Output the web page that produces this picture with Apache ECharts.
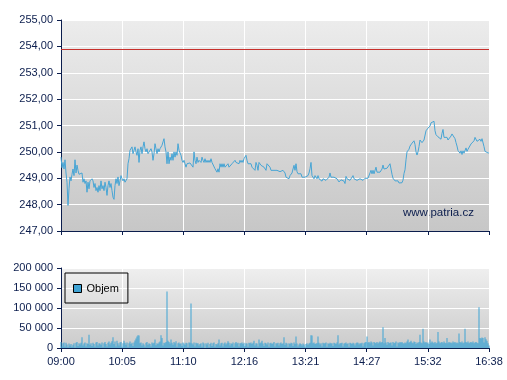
<!DOCTYPE html>
<html><head><meta charset="utf-8">
<script src="https://cdn.jsdelivr.net/npm/echarts@6/dist/echarts.min.js"></script>
<style>html,body{margin:0;padding:0;background:#fff}#c{width:507px;height:380px}</style>
</head><body><div id="c"></div>
<script>
const xTickLabels = ['09:00','10:05','11:10','12:16','13:21','14:27','15:32','16:38'];
const sessionMinutes = 458;
const refLevel = 253.9;
const seriesName = 'Objem';
const watermark = 'www.patria.cz';

const priceOpen = [
249.8,249.4,249.6,249.35,249.7,249.2,248.85,247.97,248.6,249.05,
248.9,249.15,249.35,249.1,249.7,249.2,249.5,249.3,249.15,249.2,
249.1,249.2,248.85,248.98,248.8,248.9,248.47,248.85,248.6,248.9,
248.85,248.98,248.9,248.65,248.8,248.53,248.65,248.47,248.72,248.53,
248.9,248.6,248.72,248.53,248.85,248.65,248.35,248.72,248.9,248.65,
248.8,248.53,248.28,248.2,248.72,248.98,248.8,249.05,248.72,248.9,
249.1,248.98,248.9,248.98,248.85,248.8,248.98,249.55,249.74,250.06,
250.0,250.19,249.93,250.06,250.19,250.0,249.87,250.12,249.6,250.06,
250.19,249.93,250.19,250.38,250.12,250.0,250.12,249.93,250.0,249.93,
250.12,250.0,249.68,249.93,250.31,250.12,249.93,250.12,250.0,250.12,
250.06,250.25,250.38,250.5,250.19,250.0,249.55,250.0];
const priceMidday = [
249.55,249.8,249.68,249.93,249.68,250.0,249.8,250.0,249.87,250.31,
250.06,250.0,249.87,249.68,249.6,249.68,249.55,249.42,249.55,249.58,
249.55,249.58,249.55,249.55,249.42,250.0,249.68,249.55,249.8,249.6,
249.68,249.74,249.6,249.8,249.68,249.6,249.74,249.6,249.68,249.6,
249.68,249.6,249.74,249.6,249.58,249.55,249.36,249.42,249.23,249.36,
249.23,249.55,249.42,249.55,249.42,249.55,249.42,249.49,249.42,249.55,
249.42,249.49,249.42,249.55,249.6,249.55,249.68,249.6,249.55,249.6,
249.55,249.68,249.6,249.68,249.6,249.74,249.68,249.87,249.68,249.55,
249.6,249.49,249.55,249.42,249.36,249.49,249.3,249.6,249.49,249.3,
249.6,249.55,249.49,249.42,249.55,249.42,249.36,249.3,249.55,249.6,
249.49,249.42,249.3,249.3,249.3,249.3,249.3];
const priceAfternoon = [
249.35,249.3,249.25,249.3,249.25,249.25,249.27,249.3,249.28,249.2,
249.04,248.98,249.1,248.98,249.1,249.07,249.2,249.35,249.49,249.3,
249.55,249.25,249.17,249.23,249.1,249.17,249.04,249.0,248.98,249.04,
249.04,249.04,249.1,249.2,249.36,249.6,249.1,249.17,248.98,249.1,
249.04,248.98,249.1,248.98,248.94,248.98,248.89,248.98,248.92,248.98,
248.92,248.98,248.94,249.04,249.2,249.04,249.07,249.04,249.04,249.04,
249.0,248.98,248.92,248.86,248.8,248.94,248.89,248.98,248.89,248.8,
249.07,248.98,248.92,248.98,248.92,248.98,248.92,249.1,248.98,248.92,
248.98,248.92,248.92,248.92,248.98,248.95,248.92,248.92,248.92,249.0,
249.0,248.98,249.0,248.98,249.2,249.3,249.17,249.3,249.17,249.23,
249.42,249.23,249.3,249.17,249.23,249.25];
const priceClose = [
249.35,249.5,249.35,249.38,249.33,249.38,249.33,249.45,249.55,249.35,
249.15,249.0,249.02,248.9,248.92,248.88,248.9,248.82,248.78,248.88,
248.83,248.93,249.18,249.32,249.7,250.0,249.95,250.1,250.22,250.2,
250.33,250.28,250.42,250.28,250.0,249.88,250.0,250.2,250.45,250.5,
250.35,250.28,250.45,250.46,250.8,250.8,250.9,250.85,250.98,251.1,
251.05,251.17,251.16,250.8,250.65,250.6,250.57,250.6,250.58,250.48,
250.7,250.85,250.55,250.6,250.48,250.55,250.45,250.5,250.47,250.6,
250.68,250.69,250.65,250.5,250.35,250.22,250.05,250.04,249.95,250.04,
249.9,250.04,249.95,249.98,250.15,250.02,250.1,250.08,250.17,250.3,
250.37,250.33,250.42,250.55,250.52,250.4,250.43,250.33,250.48,250.4,
250.5,250.5,250.2,250.02,250.05,249.98,249.96,249.96];

// volume in thousands of shares
const volumeOpenK = [
15,4,12,14,3,13,9,2,11,6, 10,3,8,12,1,13,15,5,12,9,
13,27,6,11,14,4,12,10,33,8, 12,5,13,10,3,14,15,6,12,11,
8,14,2,12,15,10,4,13,16,9, 13,17,27,10,16,4,18,12,6,14,
15,3,12,18,13,8,14,2,12,16, 10,13,5,14,19,24,29,32,31,12,
14,6,12,9,3,13,15,8,12,10, 4,14,11,13,21,7,12,10,14,16,
32,25,6,13,12,15,141,18,15,11];
const volumeMiddayK = [
21,13,8,15,12,17,3,12,14,10, 12,5,14,11,8,13,12,2,14,13,
111,12,9,14,4,13,11,12,6,10, 12,3,14,11,0,12,9,13,2,10,
13,5,12,14,3,10,9,12,21,6, 12,13,4,11,14,9,12,17,13,6,
12,10,14,3,12,15,11,13,4,12, 12,14,10,13,5,12,11,3,13,12,
14,10,13,18,6,12,11,4,21,12, 14,18,11,5,13,12,9,14,3,12,
13,10,12,15,4,12,11,13,6,12];
const volumeAfternoonK = [
14,10,12,27,8,13,11,3,12,10, 13,12,5,14,10,29,11,4,9,12,
10,6,11,9,3,10,12,8,11,13, 32,31,12,14,10,11,12,29,13,9,
12,4,13,11,12,14,3,12,10,13, 11,12,5,13,12,10,14,32,9,12,
12,13,4,11,12,14,10,12,3,13, 12,10,13,11,6,12,14,13,9,12,
11,13,4,12,14,15,29,13,15,12, 16,14,6,15,13,12,15,11,14,16];
const volumeCloseK = [
13,15,52,12,25,14,8,15,12,13, 14,6,15,12,13,16,4,14,12,15,
13,15,12,11,14,12,16,21,13,15, 18,14,12,16,15,10,14,12,15,33,
14,12,48,16,13,15,12,14,10,21, 13,16,14,12,15,11,13,40,16,12,
14,15,12,16,13,12,25,12,15,13, 14,12,16,13,15,12,14,12,36,15,
13,16,12,14,48,15,13,16,12,14, 15,13,16,12,14,15,13,12,102,25,
24,26,25,14,27,22,18,12,6];

const prices = [].concat(priceOpen, priceMidday, priceAfternoon, priceClose);
const volumes = [].concat(volumeOpenK, volumeMiddayK, volumeAfternoonK, volumeCloseK).map(v => v * 1000);
const step = sessionMinutes / (prices.length - 1);
const priceData = prices.map((p, i) => [i * step, p]);
const volData = volumes.map((v, i) => [i * step, v]);
const xInterval = sessionMinutes / (xTickLabels.length - 1);

const navy = '#0b1d4d';
const font = '"Liberation Sans", Arial, sans-serif';
const lineBlue = '#47a5d5';

function xLabel(v) { return xTickLabels[Math.round(v / xInterval)] || ''; }
function grad(a, b) {
  return new echarts.graphic.LinearGradient(0, 0, 0, 1, [{offset: 0, color: a}, {offset: 1, color: b}]);
}
const axisCommon = {
  axisLine: {show: true, onZero: false, lineStyle: {color: navy, width: 1}},
  axisTick: {show: true, length: 4, lineStyle: {color: navy}},
  splitLine: {show: true, lineStyle: {color: '#ffffff', width: 1}}
};

const chart = echarts.init(document.getElementById('c'), null, {renderer: 'canvas'});
chart.setOption({
  animation: false,
  backgroundColor: '#ffffff',
  grid: [
    {left: 61, right: 18, top: 20, height: 211, show: true, borderWidth: 0, backgroundColor: grad('#ececec', '#c7c7c7')},
    {left: 61, right: 18, top: 268, height: 80, show: true, borderWidth: 0, backgroundColor: grad('#efefef', '#cbcbcb')}
  ],
  xAxis: [
    Object.assign({type: 'value', gridIndex: 0, min: 0, max: sessionMinutes, interval: xInterval,
      axisLabel: {show: false}}, axisCommon),
    Object.assign({type: 'value', gridIndex: 1, min: 0, max: sessionMinutes, interval: xInterval,
      axisLabel: {show: true, formatter: xLabel, color: navy, fontSize: 11, fontFamily: font, margin: 8}}, axisCommon)
  ],
  yAxis: [
    Object.assign({type: 'value', gridIndex: 0, min: 247, max: 255, interval: 1,
      axisLabel: {formatter: v => v.toFixed(2).replace('.', ','), color: navy, fontSize: 11, fontFamily: font, margin: 8}}, axisCommon),
    Object.assign({type: 'value', gridIndex: 1, min: 0, max: 200000, interval: 50000,
      axisLabel: {formatter: v => String(v).replace(/\B(?=(\d{3})+(?!\d))/g, ' '), color: navy, fontSize: 11, fontFamily: font, margin: 8}}, axisCommon)
  ],
  legend: {
    data: [seriesName], left: 65, top: 273, orient: 'vertical',
    padding: [10, 9, 9, 8], borderColor: '#000', borderWidth: 1, borderRadius: 0,
    backgroundColor: 'transparent',
    itemWidth: 8, itemHeight: 8, icon: 'rect',
    itemStyle: {borderColor: '#000', borderWidth: 1},
    textStyle: {color: '#000', fontSize: 11, fontFamily: font}
  },
  graphic: [
    {type: 'text', left: 403, top: 207, style: {text: watermark, fill: navy, font: '11.5px "Liberation Sans", Arial, sans-serif'}}
  ],
  series: [
    {
      name: 'Cena', type: 'line', xAxisIndex: 0, yAxisIndex: 0, data: priceData,
      showSymbol: false, symbol: 'none', lineStyle: {color: lineBlue, width: 1}, itemStyle: {color: lineBlue},
      markLine: {silent: true, symbol: 'none', label: {show: false},
        lineStyle: {color: '#c8302c', width: 1, type: 'solid'}, data: [{yAxis: refLevel}]}
    },
    {
      name: seriesName, type: 'bar', xAxisIndex: 1, yAxisIndex: 1, data: volData,
      barWidth: 1, itemStyle: {color: '#3fa3d4'}
    }
  ]
});
</script></body></html>
